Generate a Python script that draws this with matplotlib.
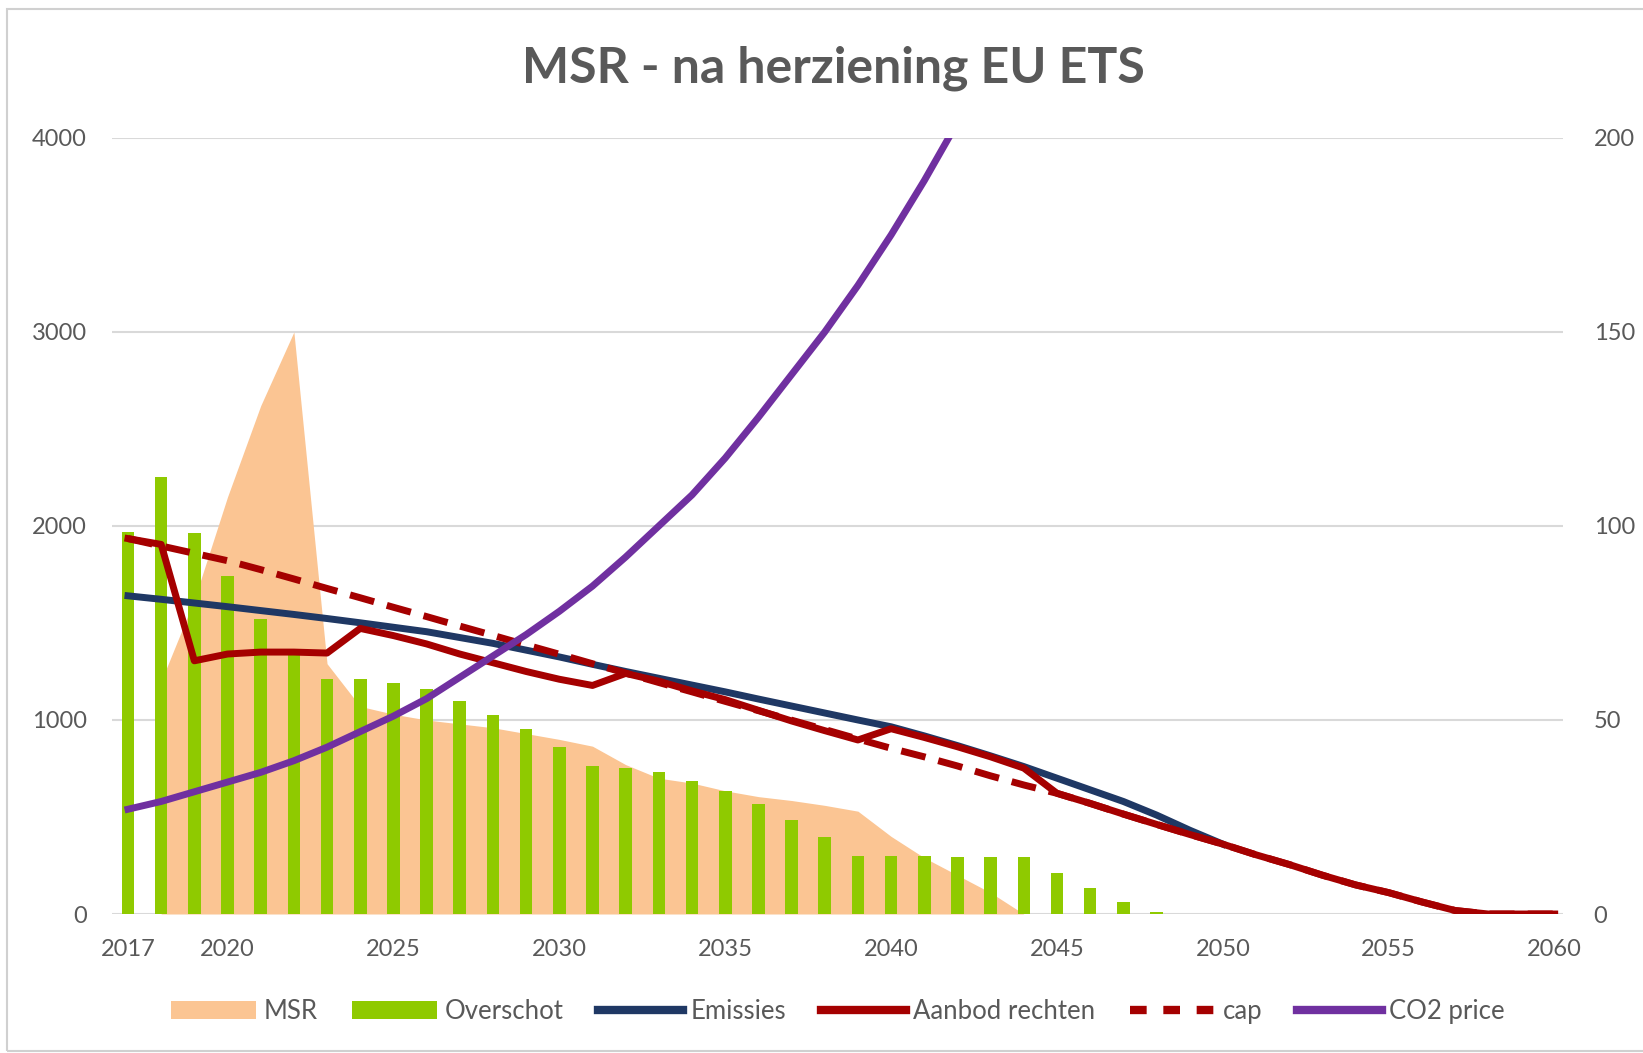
import matplotlib
matplotlib.use('Agg')
import matplotlib.pyplot as plt
from matplotlib.lines import Line2D
from matplotlib.patches import Patch, Rectangle

plt.rcParams['font.family'] = ['Lato', 'DejaVu Sans']

# jaren op de x-as
jaren = list(range(2017, 2061))

# overschot (staven), 2017-2060
overschot = [1970, 2250, 1965, 1740, 1520, 1340, 1210, 1212, 1192, 1158,
             1100, 1028, 952, 861, 763, 751, 734, 687, 636, 567,
             485, 399, 299, 299, 301, 292, 292, 292, 210, 132,
             64, 10, 0, 0, 0, 0, 0, 0, 0, 0,
             0, 0, 0, 0]

# MSR (vlak), 2018-2044
msr_jaren = list(range(2018, 2045))
msr = [1200, 1620, 2150, 2620, 3000, 1290, 1070, 1030, 1000, 980,
       960, 930, 900, 865, 770, 700, 675, 635, 605, 585,
       560, 530, 400, 290, 200, 110, 0]

# emissies, 2017-2050
emissie_jaren = list(range(2017, 2051))
emissies = [1640, 1622, 1603, 1584, 1564, 1544, 1523, 1501, 1478, 1455,
            1425, 1395, 1360, 1325, 1287, 1250, 1215, 1180, 1145, 1108,
            1072, 1036, 1000, 965, 918, 868, 815, 760, 700, 640,
            580, 510, 432, 360]

# aanbod rechten, 2017-2060
aanbod = [1935, 1905, 1305, 1340, 1350, 1350, 1345, 1472, 1435, 1392,
          1340, 1295, 1250, 1210, 1178, 1240, 1200, 1150, 1105, 1050,
          995, 945, 897, 955, 910, 862, 810, 752, 622, 570,
          515, 462, 410, 360, 305, 255, 200, 150, 110, 62,
          18, 0, 0, 0]

# cap, 2017-2060
cap = [1935, 1897, 1859, 1821, 1775, 1727, 1678, 1630, 1581, 1533,
       1484, 1436, 1387, 1339, 1290, 1242, 1193, 1145, 1096, 1048,
       999, 951, 902, 854, 810, 763, 712, 665, 622, 570,
       515, 462, 410, 360, 305, 255, 200, 150, 110, 62,
       18, 0, 0, 0]

# CO2 prijs (rechter as), 2017-2042
co2_jaren = list(range(2017, 2043))
co2_prijs = [27, 29, 31.5, 34, 36.5, 39.5, 43, 47, 51, 55.5,
             61, 66.5, 72, 78, 84.5, 92, 100, 108, 117.5, 128,
             139, 150, 162, 175, 189, 204]

grijs = '#595959'
kleur_msr = '#fbc593'
kleur_overschot = '#8fca00'
kleur_emissies = '#1f3864'
kleur_rood = '#a50000'
kleur_co2 = '#7030a0'
dikte = 5

fig = plt.figure(figsize=(16.43, 10.53), dpi=100)
ax = fig.add_axes([0.0682, 0.132, 0.8831, 0.737])

ax.fill_between(msr_jaren, msr, color=kleur_msr, lw=0, zorder=1)
ax.bar(jaren, overschot, width=0.38, color=kleur_overschot, zorder=2)
ax.plot(emissie_jaren, emissies, color=kleur_emissies, lw=dikte, zorder=3,
        solid_joinstyle='round')
ax.plot(jaren, cap, color=kleur_rood, lw=dikte, ls=(0, (3.6, 1.9)), zorder=3.5)
ax.plot(jaren, aanbod, color=kleur_rood, lw=dikte, zorder=4, solid_joinstyle='round')

ax.set_xlim(2016.52, 2060.25)
ax.set_ylim(0, 4000)
ax.set_yticks([0, 1000, 2000, 3000, 4000])
ax.set_xticks([2017, 2020, 2025, 2030, 2035, 2040, 2045, 2050, 2055, 2060])
ax.grid(axis='y', color='#d9d9d9', lw=1.5)
ax.set_axisbelow(True)
ax.tick_params(axis='x', length=0, pad=18, labelsize=17, labelcolor=grijs)
ax.tick_params(axis='y', length=0, pad=18, labelsize=17, labelcolor=grijs)
for s in ax.spines.values():
    s.set_visible(False)

ax2 = ax.twinx()
ax2.plot(co2_jaren, co2_prijs, color=kleur_co2, lw=dikte, zorder=5,
         solid_joinstyle='round')
ax2.set_ylim(0, 200)
ax2.set_yticks([0, 50, 100, 150, 200])
ax2.tick_params(axis='y', length=0, pad=22, labelsize=17, labelcolor=grijs)
for s in ax2.spines.values():
    s.set_visible(False)

fig.text(0.507, 0.935, 'MSR - na herziening EU ETS', ha='center', va='center',
         fontsize=36, fontweight='bold', color=grijs)

handles = [
    Patch(facecolor=kleur_msr, edgecolor='none'),
    Patch(facecolor=kleur_overschot, edgecolor='none'),
    Line2D([], [], color=kleur_emissies, lw=6),
    Line2D([], [], color=kleur_rood, lw=6),
    Line2D([], [], color=kleur_rood, lw=6, ls=(0, (2.0, 2.0))),
    Line2D([], [], color=kleur_co2, lw=6),
]
labels = ['MSR', 'Overschot', 'Emissies', 'Aanbod rechten', 'cap', 'CO2 price']
leg = fig.legend(handles, labels, loc='center', bbox_to_anchor=(0.51, 0.039),
                 ncol=6, frameon=False, fontsize=18.5, handlelength=3.3,
                 handletextpad=0.3, columnspacing=1.35)
for t in leg.get_texts():
    t.set_color(grijs)

fig.patches.append(Rectangle((0.0045, 0.002), 1.0, 0.989, transform=fig.transFigure,
                             fill=False, edgecolor='#d0d0d0', lw=1.5))

fig.savefig('out.png', dpi=100)
